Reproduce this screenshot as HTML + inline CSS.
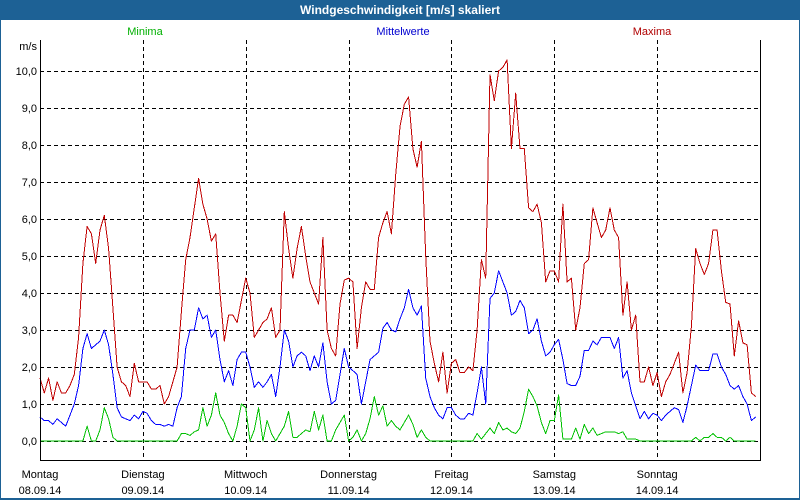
<!DOCTYPE html>
<html><head><meta charset="utf-8"><style>
html,body{margin:0;padding:0;background:#fff}
#wrap{position:relative;width:800px;height:500px;overflow:hidden;font-family:"Liberation Sans",sans-serif}
</style></head><body>
<div id="wrap">
<svg id="chart" width="800" height="500" xmlns="http://www.w3.org/2000/svg">
<rect x="0" y="0" width="800" height="500" fill="#1d6195"/>
<rect x="1" y="20" width="798" height="478" fill="#ffffff"/>
<text x="400" y="14" text-anchor="middle" fill="#fff" font-size="12" font-weight="bold">Windgeschwindigkeit [m/s] skaliert</text>
<text x="145" y="35" text-anchor="middle" fill="#00b000" font-size="11">Minima</text>
<text x="403" y="35" text-anchor="middle" fill="#0000d0" font-size="11">Mittelwerte</text>
<text x="652" y="35" text-anchor="middle" fill="#b00000" font-size="11">Maxima</text>
<text x="37" y="50" text-anchor="end" fill="#000" font-size="11">m/s</text>
<g id="grid"></g><g id="series"></g><g id="axes"></g>
</svg>
</div>
<script>
const yTicks=[0,1,2,3,4,5,6,7,8,9,10];
const yTickLabels=["0,0","1,0","2,0","3,0","4,0","5,0","6,0","7,0","8,0","9,0","10,0"];
const dayNames=["Montag","Dienstag","Mittwoch","Donnerstag","Freitag","Samstag","Sonntag"];
const dayDates=["08.09.14","09.09.14","10.09.14","11.09.14","12.09.14","13.09.14","14.09.14"];
const maxima=[
1.7,1.3,1.7,1.1,1.6,1.3,1.3,1.5,1.8,2.8,4.8,5.8,5.6,4.8,5.7,6.1,5.2,3.6,2.0,1.6,1.5,1.2,2.1,1.6,
1.6,1.6,1.4,1.4,1.5,1.0,1.2,1.6,2.0,3.5,4.9,5.5,6.3,7.1,6.4,6.0,5.4,5.6,4.0,2.7,3.4,3.4,3.2,3.8,
4.4,4.0,2.8,3.0,3.2,3.3,3.6,2.8,3.0,6.2,5.2,4.4,5.2,5.8,5.0,4.3,4.0,3.7,5.5,3.0,2.5,2.3,3.7,4.35,
4.4,4.3,2.5,3.6,4.3,4.1,4.1,5.5,5.9,6.2,5.6,7.2,8.5,9.1,9.3,7.9,7.4,8.1,5.0,2.7,2.1,1.6,2.4,1.3,
2.1,2.2,1.85,1.85,2.0,1.9,3.0,4.9,4.4,9.9,9.2,10.0,10.1,10.3,7.9,9.4,7.9,7.9,6.3,6.2,6.4,5.9,4.3,4.6,
4.6,4.3,6.4,4.3,4.4,3.0,3.6,4.8,4.9,6.3,5.9,5.5,5.7,6.3,5.7,5.5,3.4,4.3,3.0,3.4,1.6,1.6,2.0,1.5,
1.85,1.2,1.6,1.8,2.1,2.4,1.3,1.85,3.1,5.2,4.8,4.5,4.8,5.7,5.7,4.6,3.75,3.7,2.3,3.25,2.65,2.6,1.3,1.2];
const mittelwerte=[
0.65,0.55,0.55,0.45,0.6,0.5,0.4,0.7,1.0,1.5,2.5,2.9,2.5,2.6,2.7,3.0,2.6,1.8,0.9,0.65,0.6,0.55,0.7,0.6,
0.8,0.75,0.55,0.45,0.45,0.4,0.45,0.4,0.9,1.2,2.5,3.0,3.0,3.6,3.3,3.4,2.8,3.0,2.2,1.6,1.9,1.5,2.2,2.4,
2.4,2.0,1.45,1.6,1.45,1.6,1.8,1.2,2.0,3.0,2.7,2.0,2.3,2.4,2.3,1.9,2.3,2.0,2.65,1.6,1.0,1.1,1.8,2.5,
2.0,1.9,1.8,1.0,1.6,2.2,2.3,2.4,3.05,3.2,3.0,2.95,3.3,3.6,4.1,3.6,3.4,3.65,1.7,1.2,0.9,0.7,0.6,0.9,
0.9,0.7,0.6,0.6,0.75,0.7,1.3,2.0,1.0,3.85,4.0,4.6,4.3,4.0,3.4,3.5,3.8,3.6,2.9,3.0,3.3,2.7,2.3,2.4,
2.6,2.75,2.2,1.55,1.5,1.5,1.75,2.45,2.45,2.7,2.6,2.8,2.8,2.8,2.5,2.8,1.7,1.9,1.3,0.95,0.6,0.8,0.6,0.75,
0.7,0.55,0.7,0.8,0.9,0.85,0.5,0.95,1.5,2.05,1.9,1.9,1.9,2.35,2.35,2.0,1.8,1.5,1.4,1.5,1.2,1.0,0.55,0.65];
const minima=[
0,0,0,0,0,0,0,0,0,0,0,0.4,0,0,0.3,0.9,0.6,0.1,0,0,0,0,0,0,
0,0,0,0,0,0,0,0,0,0.2,0.2,0.15,0.25,0.3,0.9,0.4,0.7,1.3,0.7,0.5,0.2,0,0.4,1.0,
0.9,0,0.3,0.9,0,0.55,0.2,0,0.2,0.4,0.8,0.1,0.1,0.2,0.3,0.25,0.8,0.3,0.7,0,0,0.3,0.5,0.7,
0,0.1,0.3,0,0.2,0.6,1.2,0.7,0.95,0.4,0.55,0.4,0.3,0.5,0.7,0.45,0.1,0.3,0.1,0,0,0,0,0,
0,0,0,0,0,0,0.2,0.05,0.2,0.35,0.2,0.5,0.3,0.35,0.25,0.2,0.35,0.8,1.4,1.2,0.95,0.5,0.2,0.55,
0.55,1.25,0.05,0.05,0.05,0.35,0.05,0.45,0.2,0.35,0.15,0.2,0.25,0.25,0.25,0.2,0.25,0.05,0.05,0.05,0,0,0,0,
0,0,0,0,0,0,0,0,0,0.1,0,0.1,0.1,0.2,0.1,0.1,0,0.1,0,0,0,0,0,0];

const L=40,R=760,T=40,B=460,Y0=441,PPU=37;
const NS="http://www.w3.org/2000/svg";
const nPts=168;
function xPos(i){return L+i*(R-L)/nPts;}
function xDay(d){return L+d*(R-L)/7;}
function yPos(v){return Y0-v*PPU;}
function mk(tag,attrs,parent){const e=document.createElementNS(NS,tag);for(const k in attrs)e.setAttribute(k,attrs[k]);parent.appendChild(e);return e;}
const grid=document.getElementById('grid'),series=document.getElementById('series'),axes=document.getElementById('axes');
yTicks.forEach((v,i)=>{
  const ln=mk('line',{x1:L,x2:R,y1:yPos(v)+0.5,y2:yPos(v)+0.5,stroke:'#000','stroke-width':1,'stroke-dasharray':'4,3'},grid);
  
  
  const t=mk('text',{x:37,y:yPos(v)+4,'text-anchor':'end','font-size':11,fill:'#000'},axes);
  t.textContent=yTickLabels[i];
  
  
});
dayNames.forEach((n,d)=>{
  if(d>0){
    const ln=mk('line',{x1:Math.round(xDay(d))+0.5,x2:Math.round(xDay(d))+0.5,y1:T,y2:B,stroke:'#000','stroke-width':1,'stroke-dasharray':'4,3'},grid);
    
    
  }
  const t1=mk('text',{x:xDay(d),y:478,'text-anchor':'middle','font-size':11,fill:'#000'},axes);
  t1.textContent=n;
  
  
  const t2=mk('text',{x:xDay(d),y:494,'text-anchor':'middle','font-size':11,fill:'#000'},axes);
  t2.textContent=dayDates[d];
  
  
});
function drawSeries(arr,color,name){
  const pts=arr.map((v,i)=>xPos(i).toFixed(1)+','+yPos(v).toFixed(1)).join(' ');
  const p=mk('polyline',{points:pts,fill:'none',stroke:color,'stroke-width':1,'stroke-linejoin':'round','shape-rendering':'crispEdges'},series);
  
  
}
drawSeries(minima,'#00c000','minima-line');
drawSeries(mittelwerte,'#0000ff','mittelwerte-line');
drawSeries(maxima,'#c00000','maxima-line');
const ax=mk('path',{d:`M${L+0.5},${T} V${B+0.5} H${R+0.5} V${T}`,fill:'none',stroke:'#000','stroke-width':1},axes);


</script>
</body></html>
